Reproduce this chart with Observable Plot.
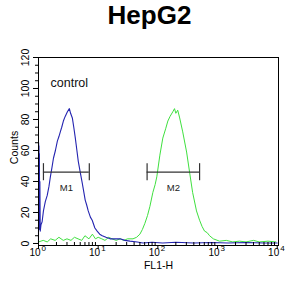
<!DOCTYPE html>
<html>
<head>
<meta charset="utf-8">
<script src="https://cdn.jsdelivr.net/npm/d3@7"></script>
<script src="https://cdn.jsdelivr.net/npm/@observablehq/plot@0.6"></script>
<style>
  html, body { margin: 0; padding: 0; background: #fff; }
  #title { width: 305px; height: 30px; line-height: 27px; text-align: center; box-sizing: border-box; padding-right: 6px;
           font: bold 26px "Liberation Sans", Arial, sans-serif; color: #000; }
  svg { display: block; }
</style>
</head>
<body>
<div id="title">HepG2</div>
<div id="chart"></div>
<script>
// ---- data ----
const titleText = "HepG2";
const xLabel = "FL1-H";
const yLabel = "Counts";
const sampleLabel = "control";

// control (blue) histogram: FL1-H value, count
const blueX = [1.0, 1.005, 1.012, 1.02, 1.028, 1.036, 1.045, 1.055, 1.07, 1.1, 1.15, 1.21, 1.3, 1.4, 1.5, 1.58, 1.68, 1.78, 1.92, 2.07, 2.2, 2.32, 2.45, 2.61, 2.8, 3.05, 3.29, 3.45, 3.69, 3.9, 4.14, 4.4, 4.64, 5.0, 5.41, 5.7, 6.06, 6.4, 6.81, 7.4, 7.94, 8.8, 9.61, 10.6, 11.7, 13.5, 15.8, 19, 23.3, 28, 34.1, 45, 56.2, 80, 120, 200, 400, 800, 1500, 3000, 6000, 10000];
const blueY = [0, 65, 14, 63, 10, 58, 9, 40, 8, 12, 14, 21, 27, 31, 37, 43, 49, 55, 60, 66, 69, 72, 75, 79, 82, 85, 87, 84, 81, 75, 68, 60, 53, 46, 39, 34, 28, 25, 21, 17, 15, 10, 8, 6, 5, 4, 3, 3, 3, 2, 1.5, 1, 0.3, 0.8, 0.3, 0.8, 0.3, 0.6, 0.3, 0.6, 0.3, 0.3];

// sample (green) histogram
const greenX = [1, 1.2, 1.4, 1.6, 1.9, 2.2, 2.6, 3.0, 3.5, 4, 4.6, 5.3, 6, 7, 8, 9, 10, 11.5, 13, 15, 17, 20, 23.3, 27, 31, 38.3, 44, 50, 55, 60.6, 67, 73.6, 82.5, 90, 96, 108, 121, 135, 147, 160, 178, 190, 200, 215, 232, 261, 303, 340, 382, 444, 500, 550, 605, 670, 736, 850, 1080, 1400, 1800, 2330, 3000, 4000, 5000, 7000, 9500];
const greenY = [1, 2, 1, 3, 2, 4, 2, 3, 2, 4, 3, 2, 5, 3, 6, 3, 4, 3, 2, 4, 3, 2, 3, 2, 3, 3, 4, 6, 9, 13, 18, 24, 33, 38, 43, 57, 68, 74, 79, 82, 85, 87, 84, 86, 81, 72, 59, 46, 33, 21, 15, 11, 8, 7, 5, 3, 1.5, 2, 1, 1.5, 1, 2, 1, 1.5, 1];

// gate markers
const markerNames = ["M1", "M2"];
const markerStart = [1.21, 66];
const markerEnd = [7.1, 500];
const markerLevel = [46, 46];

// ticks
const yTickValues = [0, 20, 40, 60, 80, 100, 120];
const yMinorValues = d3.range(0, 121, 5);
const xTickExponents = [0, 1, 2, 3, 4];

// ---- build ----
const blue = blueX.map((x, i) => ({x, y: blueY[i]}));
const green = greenX.map((x, i) => ({x, y: greenY[i]}));
const markers = markerNames.map((name, i) => ({name, x1: markerStart[i], x2: markerEnd[i], y: markerLevel[i]}));
const xMajor = xTickExponents.map(e => Math.pow(10, e));
const xMinor = [];
for (let e = 0; e < 4; e++) for (let m = 2; m <= 9; m++) xMinor.push(m * Math.pow(10, e));
const capHalf = 5.5;
const font = '"Liberation Sans", Arial, sans-serif';

const chart = Plot.plot({
  width: 305,
  height: 266,
  marginTop: 27,
  marginBottom: 51,
  marginLeft: 38,
  marginRight: 27,
  style: {fontFamily: font, color: "#000", background: "#fff"},
  x: {type: "log", domain: [1, 10500]},
  y: {domain: [-1.3, 120]},
  marks: [
    Plot.line(green, {x: "x", y: "y", stroke: "#3fe03f", strokeWidth: 1}),
    Plot.line(blue, {x: "x", y: "y", stroke: "#2424b0", strokeWidth: 1.1}),
    Plot.ruleY(markers, {y: "y", x1: "x1", x2: "x2", stroke: "#333", strokeWidth: 1.2}),
    Plot.ruleX(markers, {x: "x1", y1: d => d.y - capHalf, y2: d => d.y + capHalf, stroke: "#333", strokeWidth: 1.2}),
    Plot.ruleX(markers, {x: "x2", y1: d => d.y - capHalf, y2: d => d.y + capHalf, stroke: "#333", strokeWidth: 1.2}),
    Plot.text(markers, {x: d => Math.sqrt(d.x1 * d.x2), y: "y", text: "name", dy: 16, fontSize: 9.5, fill: "#222"}),
    Plot.text([sampleLabel], {frameAnchor: "top-left", textAnchor: "start", lineAnchor: "top", dx: 12, dy: 21, fontSize: 12.5, fill: "#111"}),
    Plot.frame({stroke: "#000", strokeWidth: 1}),
    Plot.axisY({ticks: yTickValues, tickSize: 5, tickFormat: () => "", label: null, anchor: "left"}),
    Plot.axisY({ticks: yMinorValues, tickSize: 3, tickFormat: () => "", label: null, anchor: "left"}),
    Plot.text(yTickValues, {y: d => d, frameAnchor: "left", text: d => String(d), rotate: -90, dx: -13, fontSize: 10.5, textAnchor: "middle"}),
    Plot.text([yLabel], {frameAnchor: "left", rotate: -90, dx: -24, dy: -4, fontSize: 10.5, textAnchor: "middle"}),
    Plot.axisX({ticks: xMajor, tickSize: 4, tickFormat: () => "", label: null, anchor: "bottom"}),
    Plot.axisX({ticks: xMinor, tickSize: -3, tickFormat: () => "", label: null, anchor: "bottom"}),
    Plot.text(xMajor, {x: d => d, frameAnchor: "bottom", text: () => "10", textAnchor: "end", dx: 2, dy: 10, fontSize: 10}),
    Plot.text(xTickExponents, {x: d => Math.pow(10, d), frameAnchor: "bottom", text: d => String(d), textAnchor: "start", dx: 3, dy: 5.5, fontSize: 8}),
    Plot.text([xLabel], {frameAnchor: "bottom", dy: 23, fontSize: 10.5})
  ]
});
document.getElementById("title").textContent = titleText;
document.getElementById("chart").appendChild(chart);
</script>
</body>
</html>
